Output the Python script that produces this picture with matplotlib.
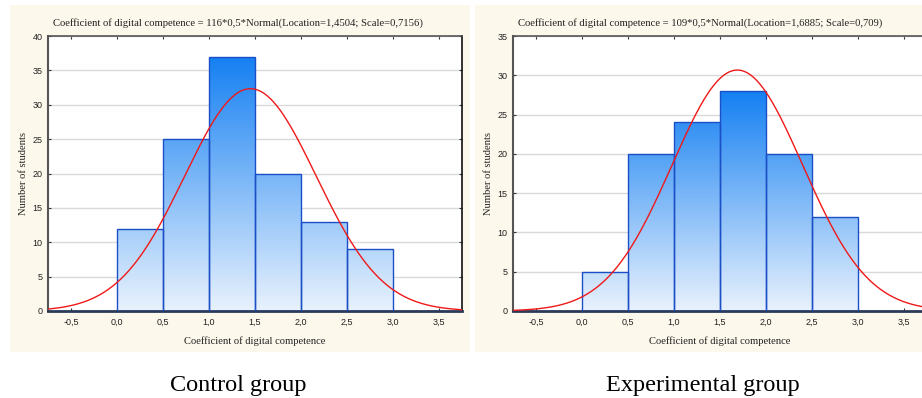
import numpy as np
import matplotlib
matplotlib.use("Agg")
import matplotlib.pyplot as plt
from matplotlib.patches import Rectangle
from matplotlib.colors import LinearSegmentedColormap
import matplotlib.ticker as mtick

# histogram data (bin edges shared by both groups)
bin_edges = [0.0, 0.5, 1.0, 1.5, 2.0, 2.5, 3.0]
control_counts = [12, 25, 37, 20, 13, 9]
experimental_counts = [5, 20, 24, 28, 20, 12]

# fitted normal parameters (from the chart titles)
control_fit = dict(n=116, width=0.5, loc=1.4504, scale=0.7156)
experimental_fit = dict(n=109, width=0.5, loc=1.6885, scale=0.709)

control_title = "Coefficient of digital competence = 116*0,5*Normal(Location=1,4504; Scale=0,7156)"
experimental_title = "Coefficient of digital competence = 109*0,5*Normal(Location=1,6885; Scale=0,709)"
x_ticks = [-0.5, 0.0, 0.5, 1.0, 1.5, 2.0, 2.5, 3.0, 3.5]

cream = '#FDF8EC'
bar_edge = '#1A4FC8'
grad = LinearSegmentedColormap.from_list('bargrad', ['#E9F2FD', '#1580F2'])

fig = plt.figure(figsize=(9.22, 3.98), dpi=100, facecolor='white')

# cream panel backgrounds (kept behind the axes)
fig.patches.append(Rectangle((10/922, 1-352/398), 460/922, 347/398,
                             transform=fig.transFigure, facecolor=cream, edgecolor='none', zorder=-10))
fig.patches.append(Rectangle((475/922, 1-352/398), 447/922, 347/398,
                             transform=fig.transFigure, facecolor=cream, edgecolor='none', zorder=-10))

sans = 'Liberation Sans'
serif = 'Liberation Serif'


def draw_panel(left_px, counts, fit, ymax, title, caption, cap_x):
    ax = fig.add_axes([left_px/922, 1-311/398, 414/922, 275/398], zorder=1)
    ax.set_facecolor('white')
    xlim = (-0.75, 3.75)

    widths = np.diff(bin_edges)
    bars = ax.bar(bin_edges[:-1], counts, width=widths, align='edge',
                  facecolor='none', edgecolor=bar_edge, linewidth=1.0, zorder=3)
    top = max(counts)
    gradient = np.linspace(0, 1, 256).reshape(-1, 1)
    for b in bars:
        im = ax.imshow(gradient, cmap=grad, origin='lower', aspect='auto',
                       extent=[xlim[0], xlim[1], 0, top], zorder=2, interpolation='bilinear')
        im.set_clip_path(b)

    xs = np.linspace(xlim[0], xlim[1], 400)
    ys = fit['n'] * fit['width'] * np.exp(-0.5 * ((xs - fit['loc']) / fit['scale'])**2) / (fit['scale'] * np.sqrt(2*np.pi))
    ax.plot(xs, ys, color='#F01818', linewidth=1.0, zorder=4)

    ax.set_xlim(*xlim)
    ax.set_ylim(0, ymax)
    ax.set_xticks(x_ticks)
    ax.set_yticks(np.arange(0, ymax + 1, 5))
    ax.xaxis.set_major_formatter(mtick.FuncFormatter(lambda v, p: f"{v:.1f}".replace('.', ',')))
    ax.yaxis.set_major_formatter(mtick.FuncFormatter(lambda v, p: f"{v:.0f}"))
    ax.grid(True, axis='y', color='#D9D9D9', linewidth=1.0, zorder=1)
    ax.set_axisbelow(True)

    ax.tick_params(axis='both', direction='in', length=2.5, width=0.8, labelsize=6.5,
                   top=True, right=True, colors='#333333', labelcolor='#222222')
    ax.tick_params(axis='x', pad=5)
    ax.tick_params(axis='y', pad=4)
    for lab in ax.get_xticklabels() + ax.get_yticklabels():
        lab.set_fontfamily(sans)

    ax.spines['left'].set_color('#555555')
    ax.spines['left'].set_linewidth(1.5)
    ax.spines['top'].set_color('#555555')
    ax.spines['top'].set_linewidth(1.2)
    ax.spines['right'].set_color('#111111')
    ax.spines['right'].set_linewidth(1.2)
    ax.spines['bottom'].set_color('#2B3A58')
    ax.spines['bottom'].set_linewidth(2.0)

    ax.set_xlabel("Coefficient of digital competence", fontfamily=serif, fontsize=7.6,
                  color='#222222', labelpad=7)
    ax.set_ylabel("Number of students", fontfamily=serif, fontsize=7.6,
                  color='#222222', labelpad=3.5)
    ax.text(0.012, 1.028, title, transform=ax.transAxes, fontfamily=serif, fontsize=7.7,
            color='#222222', ha='left', va='bottom')

    fig.text(cap_x/922, 1-385/398, caption, fontfamily=serif, fontsize=17.5,
             color='black', ha='center', va='center')
    return ax


draw_panel(48, control_counts, control_fit, 40, control_title, "Control group", 238)
draw_panel(513, experimental_counts, experimental_fit, 35, experimental_title, "Experimental group", 703)

fig.savefig("out.png", dpi=100, facecolor='white')
